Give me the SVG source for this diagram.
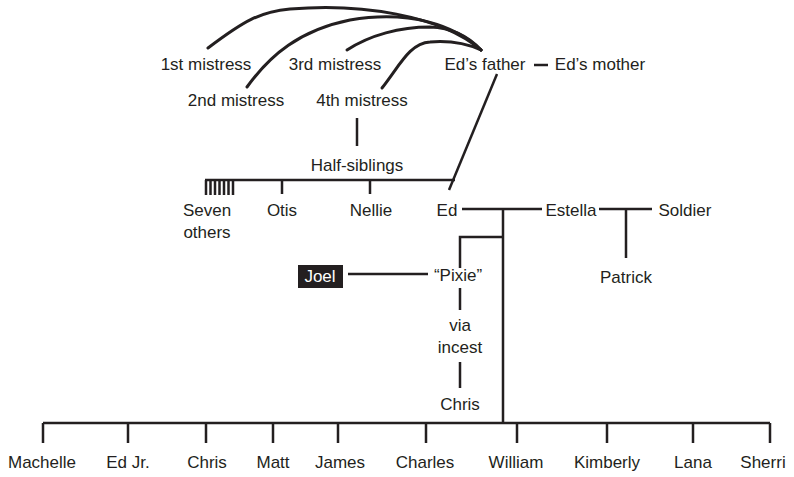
<svg xmlns="http://www.w3.org/2000/svg" width="794" height="477" viewBox="0 0 794 477">
<style>
text{font-family:"Liberation Sans",Arial,sans-serif;font-size:17px;fill:#231f20;text-anchor:middle}
.ln{stroke:#231f20;stroke-width:2.5;fill:none}
.arc{stroke:#231f20;stroke-width:3;fill:none;stroke-linecap:round}
</style>
<rect width="794" height="477" fill="#fff"/>
<g id="connectors">
<path class="arc" d="M208,48 C245,20 260,12 290,9 C360,3 440,15 481,50"/>
<path class="arc" d="M247,87 C270,55 300,30 350,20 C410,10 455,25 481,50"/>
<path class="arc" d="M347,50 C370,35 400,27 430,27 C455,28 470,38 481,50"/>
<path class="arc" d="M382,88 C400,65 410,43 430,42 C455,40 470,45 481,50"/>
<path class="ln" d="M534,65 H548"/>
<path class="ln" d="M497,74 L449,190"/>
<path class="ln" d="M357,118 V146"/>
<path class="ln" d="M205,180 H455"/>
<path class="ln" d="M206,180 V195 M210.5,180 V195 M215,180 V195 M219.5,180 V195 M224,180 V195 M228.5,180 V195 M233,180 V195"/>
<path class="ln" d="M282,180 V194 M370,180 V194"/>
<path class="ln" d="M462,209 H542 M503,209 V423"/>
<path class="ln" d="M599,209 H652 M626,209 V258"/>
<path class="ln" d="M503,237 H460 V268"/>
<path class="ln" d="M348,274 H428"/>
<path class="ln" d="M460,288 V310 M460,362 V388"/>
<path class="ln" d="M43,423 H770 M43,423 V443 M128,423 V443 M206,423 V443 M273,423 V443 M338,423 V443 M426,423 V443 M517,423 V443 M607,423 V443 M693,423 V443 M770,423 V443"/>
</g>
<g id="mistress1"><text x="206" y="70">1st mistress</text></g>
<g id="mistress2"><text x="236" y="106">2nd mistress</text></g>
<g id="mistress3"><text x="335" y="70">3rd mistress</text></g>
<g id="mistress4"><text x="362" y="106">4th mistress</text></g>
<g id="eds-father"><text x="485" y="70">Ed’s father</text></g>
<g id="eds-mother"><text x="600" y="70">Ed’s mother</text></g>
<g id="half-siblings"><text x="357" y="171">Half-siblings</text></g>
<g id="seven-others"><text x="207" y="216">Seven</text><text x="207" y="238">others</text></g>
<g id="otis"><text x="282" y="216">Otis</text></g>
<g id="nellie"><text x="371" y="216">Nellie</text></g>
<g id="ed"><text x="447" y="216">Ed</text></g>
<g id="estella"><text x="571" y="216">Estella</text></g>
<g id="soldier"><text x="685" y="216">Soldier</text></g>
<g id="patrick"><text x="626" y="283">Patrick</text></g>
<g id="joel"><rect x="298" y="265" width="45" height="23" fill="#231f20"/><text x="320" y="282" style="fill:#fff">Joel</text></g>
<g id="pixie"><text x="458" y="281">“Pixie”</text></g>
<g id="via-incest"><text x="460" y="331">via</text><text x="460" y="353">incest</text></g>
<g id="chris-pixie"><text x="460" y="410">Chris</text></g>
<g id="machelle"><text x="42" y="468">Machelle</text></g>
<g id="ed-jr"><text x="128" y="468">Ed Jr.</text></g>
<g id="chris"><text x="207" y="468">Chris</text></g>
<g id="matt"><text x="273" y="468">Matt</text></g>
<g id="james"><text x="340" y="468">James</text></g>
<g id="charles"><text x="425" y="468">Charles</text></g>
<g id="william"><text x="516" y="468">William</text></g>
<g id="kimberly"><text x="607" y="468">Kimberly</text></g>
<g id="lana"><text x="693" y="468">Lana</text></g>
<g id="sherri"><text x="763" y="468">Sherri</text></g>
</svg>
